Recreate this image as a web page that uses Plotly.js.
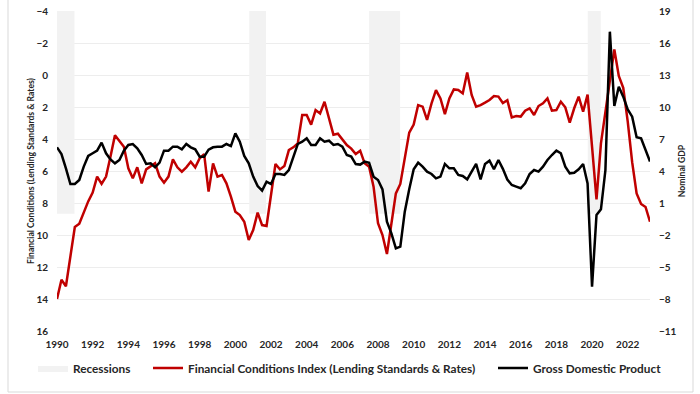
<!DOCTYPE html>
<html><head><meta charset="utf-8">
<script src="https://cdn.plot.ly/plotly-3.0.1.min.js"></script>
<style>html,body{margin:0;padding:0;background:#fff}#chart{width:700px;height:394px}</style>
</head><body><div id="chart"></div>
<script>
// Quarterly data, first point 1990 Q1
const startYear = 1990;
const fciValues = [
  14.0, 12.8, 13.2, 11.3,
  9.5, 9.3, 8.55, 7.9,
  7.35, 6.35, 6.8, 6.35,
  5.1, 3.77, 4.13, 4.48,
  5.83, 6.46, 5.77, 6.77,
  5.9, 5.69, 5.52, 6.35,
  6.73, 6.35, 5.27, 5.77,
  6.04, 5.77, 5.42, 5.77,
  5.2, 4.95, 7.29, 5.52,
  6.35, 6.25, 6.77, 7.6,
  8.54, 8.75, 9.17, 10.31,
  9.69, 8.6, 9.38, 9.44,
  7.4, 5.56, 5.9, 5.69,
  4.69, 4.52, 4.27, 2.5,
  2.5, 3.1, 2.19, 2.4,
  1.67, 2.71, 3.73, 3.67,
  4.06, 4.38, 4.6, 4.94,
  4.73, 5.52, 5.73, 6.98,
  9.27, 10.0, 11.19, 9.27,
  7.4, 6.81, 5.1, 3.6,
  3.1, 1.88, 1.98, 2.81,
  1.77, 0.94, 1.46, 2.44,
  1.46, 0.9, 0.94, 1.15,
  -0.15, 1.25, 1.98, 1.88,
  1.73, 1.56, 1.31, 1.35,
  1.75, 1.58, 2.65, 2.56,
  2.6, 2.23, 2.08, 2.5,
  1.94, 1.77, 1.46, 2.23,
  2.19, 1.67, 2.02, 2.98,
  2.08, 1.35, 2.29, 1.23,
  4.48, 7.77, 4.27, 2.29,
  0.31, -1.6, 0.06, 0.8,
  2.9, 5.45, 7.4, 8.06,
  8.25, 9.17
];
const gdpValues = [
  6.22, 5.59, 4.25, 2.78,
  2.78, 3.16, 4.41, 5.41,
  5.66, 5.91, 6.66, 5.66,
  5.09, 4.72, 5.03, 5.91,
  6.44, 6.53, 6.13, 5.5,
  4.66, 4.72, 4.34, 4.78,
  5.91, 5.91, 6.28, 6.28,
  6.03, 6.53, 6.22, 6.03,
  5.34, 5.34, 6.0, 6.22,
  6.28, 6.28, 6.53, 6.34,
  7.53, 6.75, 5.41, 4.72,
  3.47, 2.59, 2.16, 3.0,
  2.78, 3.72, 3.72, 3.63,
  4.09, 5.41, 6.53, 6.75,
  7.06, 6.44, 6.44, 7.06,
  6.75, 6.84, 6.44, 6.53,
  6.28, 5.5, 5.35, 4.65,
  4.6, 4.88, 4.78, 3.47,
  3.16, 2.28, -0.75, -1.84,
  -3.25, -3.09, 0.19, 2.28,
  4.16, 4.78, 4.41, 3.94,
  3.72, 3.31, 3.47, 4.66,
  4.25, 4.25, 3.63, 3.53,
  3.22, 3.94, 4.66, 3.22,
  4.66, 4.97, 4.16, 5.03,
  4.2, 3.2, 2.69, 2.53,
  2.38, 2.84, 3.72, 4.09,
  3.94, 4.41, 5.03, 5.5,
  5.91, 5.66, 4.41, 3.78,
  3.84, 4.16, 4.66, 2.84,
  -6.84, -0.125, 0.41, 4.09,
  17.06, 10.09, 11.9, 10.97,
  9.78, 9.09, 7.16, 7.06,
  5.97, 4.88
];
const recessionStart = [1990.0, 2000.78, 2007.5, 2019.76];
const recessionEnd   = [1990.98, 2001.72, 2009.24, 2020.49];
const recessionLow = 0, recessionHigh = 19;
const xTickVals = [1990,1992,1994,1996,1998,2000,2002,2004,2006,2008,2010,2012,2014,2016,2018,2020,2022];
const leftTicks = [-4,-2,0,2,4,6,8,10,12,14,16];
const rightTicks = [19,16,13,10,7,4,1,-2,-5,-8,-11];
const seriesNames = ['Recessions', 'Financial Conditions Index (Lending Standards & Rates)', 'Gross Domestic Product'];

const quarterX = fciValues.map((_, i) => startYear + i / 4);
const recX = [], recY = [];
recessionStart.forEach((s, i) => {
  const e = recessionEnd[i];
  recX.push(s, s, e, e, s, null);
  recY.push(recessionLow, recessionHigh, recessionHigh, recessionLow, recessionLow, null);
});

const FONT = 'Lato, "Open Sans", sans-serif';
const tickFont = {family: FONT, size: 10, color: '#262626', weight: 'bold'};
const legFont = {family: FONT, size: 11.8, color: '#262626', weight: 'bold'};
const titleFont = {family: FONT, size: 8.6, color: '#262626', weight: 'bold'};

// y  : right-hand GDP scale (recession bands drawn first, beneath everything)
// y2 : left-hand Financial Conditions scale (reversed)
// y3 : copy of the GDP scale so the GDP line is drawn last, on top
const traces = [
  {x: recX, y: recY, yaxis: 'y', type: 'scatter', mode: 'lines', fill: 'toself',
   fillcolor: '#F2F2F2', line: {width: 0, color: 'rgba(0,0,0,0)'}, name: seriesNames[0],
   legend: 'legend', hoverinfo: 'skip'},
  {x: quarterX, y: fciValues, yaxis: 'y2', type: 'scatter', mode: 'lines', line: {color: '#C00000', width: 2.5},
   name: seriesNames[1], legend: 'legend2'},
  {x: quarterX, y: gdpValues, yaxis: 'y3', type: 'scatter', mode: 'lines', line: {color: '#000000', width: 2.5},
   name: seriesNames[2], legend: 'legend3'}
];

const pw = 593, ph = 320, ml = 57, mt = 11;
const px = v => (v - ml) / pw;
const legY = (331 - 368) / ph;
const legBase = {orientation: 'h', yanchor: 'middle', xanchor: 'left', y: legY, font: legFont,
  bgcolor: 'rgba(0,0,0,0)', borderwidth: 0};

const layout = {
  width: 700, height: 394,
  margin: {l: ml, r: 700 - ml - pw, t: mt, b: 394 - mt - ph, pad: 0},
  paper_bgcolor: '#fff', plot_bgcolor: '#fff',
  showlegend: true,
  legend: Object.assign({}, legBase, {x: px(33)}),
  legend2: Object.assign({}, legBase, {x: px(148)}),
  legend3: Object.assign({}, legBase, {x: px(493)}),
  xaxis: {range: [1990, 2023.25], tickvals: xTickVals, ticktext: xTickVals.map(String),
    showgrid: false, zeroline: false, showline: false, ticks: '', tickfont: tickFont,
    ticklabelstandoff: 6, fixedrange: true},
  yaxis: {range: [-11, 19], tickvals: rightTicks, side: 'right', showgrid: true, gridcolor: '#EDEDED', gridwidth: 1,
    zeroline: false, showline: false, ticks: '', tickfont: tickFont, ticklabelstandoff: 8,
    title: {text: 'Nominal GDP', standoff: 3, font: titleFont}},
  yaxis2: {range: [16, -4], tickvals: leftTicks, overlaying: 'y', side: 'left', showgrid: false,
    zeroline: false, showline: false, ticks: '', tickfont: tickFont, ticklabelstandoff: 8,
    title: {text: 'Financial Conditions (Lending Standards & Rates)', standoff: 0, font: titleFont}},
  yaxis3: {range: [-11, 19], overlaying: 'y', visible: false, showgrid: false, zeroline: false},
  shapes: [{type: 'rect', xref: 'paper', yref: 'paper', x0: px(8), x1: px(693), y0: (331 - 392) / ph, y1: (331 + 2) / ph,
    line: {color: '#D9D9D9', width: 1}, fillcolor: 'rgba(0,0,0,0)', layer: 'below'}]
};

Plotly.newPlot('chart', traces, layout, {displayModeBar: false, staticPlot: true});
</script></body></html>
